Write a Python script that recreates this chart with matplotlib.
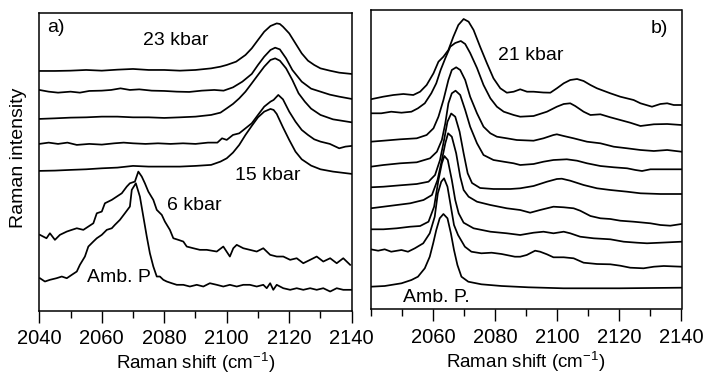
import matplotlib
matplotlib.use("Agg")
import matplotlib.pyplot as plt
from matplotlib.ticker import MultipleLocator, FixedLocator

plt.rcParams['font.family'] = ['Liberation Sans', 'DejaVu Sans']
plt.rcParams['mathtext.fontset'] = 'custom'
plt.rcParams['mathtext.rm'] = 'Liberation Sans'
plt.rcParams['mathtext.it'] = 'Liberation Sans:italic'
plt.rcParams['mathtext.bf'] = 'Liberation Sans:bold'

# ---------------- Panel a) data (Raman shift in cm-1, intensity in arb. units, stacked) --------------
a1_x = [2040, 2045, 2050, 2055, 2060, 2065, 2070, 2075, 2080, 2085, 2090, 2095, 2098, 2100, 2103, 2106,
        2108, 2110, 2112, 2114, 2116, 2117, 2118, 2120, 2122, 2124, 2126, 2128, 2130, 2133, 2136, 2140]
a1_y = [239.7, 239.7, 240, 240.7, 240, 241, 241.7, 240.7, 240.7, 240, 240.7, 242.3, 244, 245.7, 249, 255.7,
        262.3, 270.7, 279, 284.7, 287.3, 286.7, 284, 277.3, 267.3, 257.3, 250, 245.7, 242.3, 240, 238, 236.7]

a2_x = [2040, 2043, 2046, 2050, 2053, 2056, 2060, 2063, 2066, 2069, 2072, 2076, 2080, 2084, 2088, 2092,
        2096, 2099, 2102, 2105, 2108, 2110, 2112, 2114, 2115.5, 2117, 2119, 2121, 2124, 2127, 2130, 2133,
        2136, 2140]
a2_y = [220.7, 219, 218, 219, 218, 219.7, 220, 220.7, 222.3, 220.7, 221.3, 220, 219.7, 219, 218.7, 220,
        220.7, 220, 223.3, 229, 236.7, 245.7, 254, 260.7, 263, 261.3, 252.3, 240.7, 229, 222, 219, 216,
        214, 211.7]

a3_x = [2040, 2045, 2050, 2055, 2060, 2065, 2070, 2075, 2080, 2085, 2090, 2095, 2098, 2100, 2102, 2104,
        2106, 2108, 2110, 2112, 2114, 2115.5, 2117, 2119, 2121, 2123, 2125, 2127, 2130, 2134, 2140]
a3_y = [191.7, 192.3, 193, 193.3, 194, 194, 193.3, 193.3, 192.7, 193.3, 194, 195.7, 198, 202.3, 206.7,
        212.3, 219, 227.3, 235.7, 244, 250.7, 252.3, 250, 242.3, 230.7, 217.3, 209, 202, 195.7, 191.3, 188.3]

a4_x = [2040, 2043, 2046, 2049, 2052, 2056, 2060, 2064, 2067, 2070, 2074, 2078, 2082, 2086, 2090, 2094,
        2097, 2098.5, 2100, 2102, 2104, 2106, 2108, 2110, 2112, 2114, 2115, 2116.5, 2118, 2120, 2122, 2124,
        2126, 2128, 2130, 2133, 2136, 2138, 2140]
a4_y = [166.7, 168, 166.7, 168, 165.7, 166.7, 166, 167.3, 168, 167.3, 166.7, 167.3, 166.7, 167.3, 166.7,
        168, 168, 172.3, 170.7, 175.7, 177.3, 182.3, 187.3, 195.7, 204, 209, 210.7, 215.7, 211.3, 199, 189,
        180.7, 175.7, 171.3, 169, 166.7, 162.3, 164, 164.7]

a5_x = [2040, 2045, 2050, 2055, 2060, 2065, 2070, 2075, 2080, 2085, 2090, 2095, 2098, 2100, 2102, 2104,
        2106, 2108, 2110, 2112, 2114, 2115, 2116, 2118, 2120, 2122, 2124, 2127, 2130, 2134, 2140]
a5_y = [139.7, 140, 140.7, 141.3, 142.3, 143, 144.7, 144, 144, 144, 144.7, 145.7, 149, 152.3, 158, 165.7,
        175.7, 184.7, 193.3, 199, 201.7, 200.7, 196.7, 183.3, 170.7, 159, 151.3, 145, 141.3, 139, 136.7]

a6_x = [2040.2, 2042.3, 2043.4, 2045.0, 2046.6, 2048.8, 2050.4, 2052.0, 2054.1, 2055.7, 2057.3, 2058.4,
        2060.0, 2061.0, 2063.2, 2064.8, 2066.4, 2068.0, 2069.0, 2070.6, 2071.7, 2072.8, 2073.8, 2074.9,
        2076.5, 2077.6, 2079.2, 2080.2, 2081.8, 2082.9, 2084.5, 2086.1, 2087.2, 2089.3, 2091.4, 2093.6,
        2096.8, 2098.9, 2101.0, 2102.1, 2103.2, 2105.3, 2107.4, 2109.6, 2111.7, 2113.9, 2116.0, 2118.1,
        2120.3, 2122.4, 2124.5, 2126.7, 2128.8, 2130.9, 2133.1, 2135.2, 2137.3, 2139.5]
a6_y = [75.7, 72.3, 77.3, 70.7, 75.7, 79, 80.7, 82.3, 80.7, 84, 87.3, 97.3, 99, 107.3, 110.7, 114, 117.3,
        124, 127.3, 129, 139, 134, 127.3, 119, 110.7, 100.7, 95.7, 89, 80.7, 72.3, 70.7, 69, 64, 62.3, 60.7,
        60.7, 59, 64, 54, 62.3, 65.7, 62.3, 60.7, 59, 62.3, 55.7, 54, 54, 50.7, 52.3, 47.3, 50.7, 54, 49,
        52.3, 47.3, 52.3, 45.7]

a7_x = [2040.2, 2041.8, 2043.4, 2045.5, 2047.2, 2048.8, 2050.4, 2052.0, 2053.0, 2054.6, 2055.7, 2057.3,
        2058.4, 2060.0, 2061.6, 2063.2, 2064.2, 2065.8, 2067.4, 2069.0, 2069.6, 2070.9, 2072.2, 2073.3,
        2074.4, 2075.4, 2076.5, 2077.6, 2078.6, 2079.7, 2080.8, 2082.4, 2084.0, 2086.1, 2088.2, 2090.4,
        2092.5, 2094.6, 2096.8, 2098.9, 2101.0, 2103.2, 2105.3, 2107.4, 2109.6, 2111.7, 2112.8, 2113.9,
        2114.9, 2116.0, 2118.1, 2120.3, 2122.4, 2124.5, 2126.7, 2128.8, 2130.9, 2133.1, 2135.2, 2137.3,
        2140.0]
a7_y = [32.3, 29, 30.7, 32.3, 34, 32.3, 35.7, 39, 45.7, 54, 64, 69, 72.3, 75.7, 80.7, 82.3, 85.7, 90.7,
        97.3, 104, 120.7, 127.3, 114, 94, 74, 57.3, 44, 34, 34, 30.7, 29, 27.3, 25.7, 25.7, 24, 25.7, 24,
        27.3, 25.7, 24, 25.7, 24, 25.7, 25.7, 24, 25.7, 22.3, 27.3, 20.7, 25.7, 22.3, 20.7, 22.3, 20.7,
        22.3, 20.7, 22.3, 19, 22.3, 20.7, 20.7]

# ---------------- Panel b) data ----------------
b1_x = [2040, 2044, 2047.3, 2050.5, 2053.7, 2055.9, 2058, 2060.2, 2061.8, 2063.4, 2065, 2066.6, 2068.2,
        2069.9, 2071.5, 2073.1, 2075.2, 2077.4, 2079.5, 2081.7, 2083.8, 2086, 2088.1, 2090.3, 2092.4,
        2095.5, 2097.8, 2099.9, 2102.1, 2104.2, 2106.4, 2108.5, 2110.7, 2112.8, 2117.1, 2120.3, 2124.6,
        2126.8, 2130.5, 2133.2, 2135.4, 2137.5, 2140]
b1_y = [209.7, 212.3, 214, 215, 214, 217.3, 224, 235.7, 247.3, 252.3, 259, 272.3, 284, 290, 287.3, 279,
        262.3, 245.7, 230.7, 220.7, 216.3, 217.3, 219.7, 217.3, 217.3, 216.5, 216.3, 220.7, 225.7, 229, 230,
        228, 224, 220.7, 215.7, 212.3, 209, 205.7, 202.3, 205, 205.7, 204, 204]

b2_x = [2040, 2043.4, 2046.6, 2049.9, 2053.1, 2055.2, 2057.4, 2059.5, 2061.1, 2062.5, 2064, 2065.6,
        2067.2, 2069, 2070.4, 2072, 2074.2, 2076.3, 2078.5, 2080.6, 2082.8, 2086, 2088.1, 2092.4, 2096.7,
        2099.9, 2102.1, 2104.2, 2105.8, 2108.5, 2110.7, 2113.9, 2117.1, 2120.3, 2123.5, 2126.8, 2131.1,
        2135.4, 2140]
b2_y = [195.7, 195.7, 197.3, 196.3, 197.3, 200.7, 205.7, 215.7, 225.7, 239, 250.7, 262.3, 266, 268, 265,
        256, 241, 224, 210.7, 202.3, 197.3, 194, 192.3, 193, 197.3, 202.3, 205, 205.7, 203, 197.3, 194,
        194.7, 191.7, 189, 186.3, 183, 184.7, 185, 184]

b3_x = [2040, 2044.1, 2049.5, 2054.8, 2058, 2060.2, 2061.8, 2063.4, 2065, 2066.1, 2067.5, 2068.8, 2070.4,
        2072, 2074.2, 2076.3, 2078.5, 2080.6, 2083.8, 2087, 2092.4, 2095.6, 2098.8, 2099.9, 2102.1, 2105.3,
        2109.6, 2113.9, 2118.2, 2122.5, 2126.8, 2131.1, 2135.4, 2140]
b3_y = [167.3, 168.3, 169.7, 170.7, 174, 180.7, 192.3, 209, 229, 239, 241.7, 239, 229, 212.3, 195.7,
        182.3, 175.7, 172.3, 170.7, 169, 168.3, 170.7, 174, 174.7, 173, 170.7, 167.3, 165.7, 162.3, 160.7,
        159, 158, 159, 157.3]

b4_x = [2040, 2044.1, 2049.5, 2054.8, 2059.1, 2061.3, 2062.9, 2064, 2065, 2066.1, 2067.3, 2068.8, 2070.4,
        2072, 2074.2, 2076.3, 2079.5, 2082.8, 2086, 2088.1, 2092.4, 2095.6, 2098.8, 2103.1, 2106.4, 2109.6,
        2113.9, 2118.2, 2122.5, 2125.2, 2127.3, 2130, 2133.2, 2140]
b4_y = [142.3, 144, 145.7, 146.7, 150.7, 157.3, 169, 185.7, 205.7, 215.7, 218.3, 214, 199, 182.3, 165.7,
        154, 149, 147.3, 145.7, 144, 145, 147.3, 149, 149.7, 148.3, 145.7, 143, 141.7, 140.7, 139, 138,
        139.7, 139.7, 139.7]

b5_x = [2040, 2044.1, 2049.5, 2054.8, 2058.6, 2060.7, 2062.3, 2063.6, 2064.7, 2065.9, 2067.2, 2068.6,
        2069.9, 2071.2, 2072.6, 2075.2, 2079.5, 2084.9, 2088.1, 2092.4, 2096.7, 2099.9, 2101.5, 2104.2,
        2108.5, 2112.8, 2117.1, 2122.5, 2126.8, 2133.2, 2140]
b5_y = [121.7, 122.3, 123.7, 125, 127.3, 134, 149, 169, 187.3, 195.5, 192.3, 177.3, 155.7, 135.7, 126,
        121, 120, 120, 120.7, 123, 127.3, 130, 130.3, 128.3, 124, 120.7, 119, 117.3, 115.7, 115, 115]

b6_x = [2040, 2044.1, 2048.4, 2052.7, 2057, 2059.7, 2061.5, 2062.9, 2064, 2064.9, 2066.1, 2067.5, 2068.8,
        2069.9, 2071.5, 2074.2, 2078.5, 2083.8, 2088.1, 2091.3, 2094.5, 2098.8, 2102.1, 2105.3, 2107.4,
        2110.7, 2113.9, 2117.1, 2120.3, 2124.6, 2130, 2133.2, 2136.4, 2140]
b6_y = [100.7, 102.3, 104, 105.7, 109, 114, 129, 149, 165.7, 175.7, 172.3, 155.7, 132.3, 119, 112.3,
        107.3, 104, 100.7, 99, 96.3, 99, 102.3, 101.7, 100.7, 98.3, 93, 90.7, 90, 88.3, 87.3, 85.7, 84,
        83.3, 85]

b7_x = [2040, 2044.1, 2048.4, 2052.7, 2055.9, 2058.6, 2060.4, 2061.8, 2062.9, 2063.7, 2064.8, 2066.1,
        2067.2, 2068.3, 2069.9, 2073.1, 2078.5, 2083.8, 2088.1, 2092.4, 2095.6, 2098.8, 2102.1, 2104.2,
        2107.4, 2111.7, 2117.1, 2121.4, 2125.7, 2128.9, 2133.2, 2140]
b7_y = [79.7, 79.7, 80.7, 82.3, 83, 87.3, 102.3, 129, 145.7, 153, 149, 129, 109, 95.7, 86.3, 80.7, 77.3,
        75.7, 74, 76.3, 77.3, 75.7, 77.3, 75.7, 72.3, 70.7, 69.7, 67.3, 66.3, 65.7, 66.3, 67.3]

b8_x = [2040, 2042.4, 2044.5, 2046.6, 2049.9, 2052, 2054.2, 2056.9, 2059, 2060.6, 2061.6, 2062.7, 2063.6,
        2064.7, 2065.8, 2066.8, 2068.1, 2070.3, 2072.4, 2075.6, 2078.9, 2082.1, 2086.4, 2088.1, 2090.2,
        2092.9, 2094.5, 2096.7, 2098.8, 2102.1, 2105.3, 2108.5, 2112.8, 2117.1, 2120.3, 2123.5, 2127.8,
        2131.1, 2134.3, 2140]
b8_y = [59.7, 58.3, 59.7, 57.3, 59, 57.3, 60.7, 65.7, 75.7, 92.3, 115.7, 127.3, 130.7, 122.3, 102.3, 84,
        74, 62.3, 57.3, 55.7, 56.3, 55, 52.3, 52.3, 54, 58.3, 57.3, 54.7, 51.7, 51.7, 50.7, 46.3, 45, 44.7,
        43.3, 41.3, 40.7, 42.3, 43, 42.3]

b9_x = [2040, 2044.5, 2049.9, 2053.1, 2055.2, 2057.4, 2059, 2060.1, 2061.1, 2062.2, 2063.4, 2064.7,
        2065.8, 2066.8, 2067.9, 2069.2, 2071.4, 2075.6, 2082.1, 2090.7, 2102, 2120, 2140]
b9_y = [22.3, 23, 25.7, 29, 32.3, 40.7, 52.3, 65.7, 79, 90.7, 95, 90.7, 75.7, 59, 44, 32.3, 27.3, 24.7,
        23, 21.7, 20.7, 20.7, 21.3]

a_ticks = [2040, 2060, 2080, 2100, 2120, 2140]
b_ticks = [2060, 2080, 2100, 2120, 2140]
xlabel_text = "Raman shift (cm$^{-1}$)"

W, H = 706, 377
fig = plt.figure(figsize=(W / 100, H / 100), dpi=100)

def px_axes(left, top, right, bottom):
    return fig.add_axes([left / W, 1 - bottom / H, (right - left) / W, (bottom - top) / H])

axa = px_axes(39.3, 12.7, 351.7, 310.5)
axb = px_axes(370.7, 9.5, 681.5, 309.0)

lw = 1.25
for xs, ys in [(a1_x, a1_y), (a2_x, a2_y), (a3_x, a3_y), (a4_x, a4_y), (a5_x, a5_y), (a6_x, a6_y), (a7_x, a7_y)]:
    axa.plot(xs, ys, color='black', lw=lw, solid_joinstyle='round')
for xs, ys in [(b1_x, b1_y), (b2_x, b2_y), (b3_x, b3_y), (b4_x, b4_y), (b5_x, b5_y), (b6_x, b6_y),
               (b7_x, b7_y), (b8_x, b8_y), (b9_x, b9_y)]:
    axb.plot(xs, ys, color='black', lw=lw, solid_joinstyle='round')

axa.set_ylim(0, 298)
axb.set_ylim(0, 299.5)
for ax, ticks in [(axa, a_ticks), (axb, b_ticks)]:
    ax.set_xlim(2040, 2140)
    ax.xaxis.set_major_locator(FixedLocator(ticks))
    ax.xaxis.set_minor_locator(MultipleLocator(10))
    ax.set_yticks([])
    ax.tick_params(axis='x', which='major', direction='out', length=8.5, width=1.0, labelsize=14.5, pad=5)
    ax.tick_params(axis='x', which='minor', direction='out', length=4.8, width=1.0)
    for s in ax.spines.values():
        s.set_linewidth(1.1)
    ax.set_xlabel(xlabel_text, fontsize=13.5, labelpad=2)

tf = 14
axa.text(0.025, 0.950, "a)", transform=axa.transAxes, fontsize=tf, ha='left', va='center')
axa.text(0.332, 0.905, "23 kbar", transform=axa.transAxes, fontsize=tf, ha='left', va='center')
axa.text(0.626, 0.452, "15 kbar", transform=axa.transAxes, fontsize=tf, ha='left', va='center')
axa.text(0.409, 0.351, "6 kbar", transform=axa.transAxes, fontsize=tf, ha='left', va='center')
axa.text(0.153, 0.112, "Amb. P", transform=axa.transAxes, fontsize=tf, ha='left', va='center')

axb.text(0.957, 0.935, "b)", transform=axb.transAxes, fontsize=tf, ha='right', va='center')
axb.text(0.410, 0.845, "21 kbar", transform=axb.transAxes, fontsize=tf, ha='left', va='center')
axb.text(0.104, 0.037, "Amb. P.", transform=axb.transAxes, fontsize=tf, ha='left', va='center')

fig.text(18.3 / W, 1 - 158 / H, "Raman intensity", rotation=90, fontsize=14, ha='center', va='center')

fig.savefig("out.png", dpi=100)
